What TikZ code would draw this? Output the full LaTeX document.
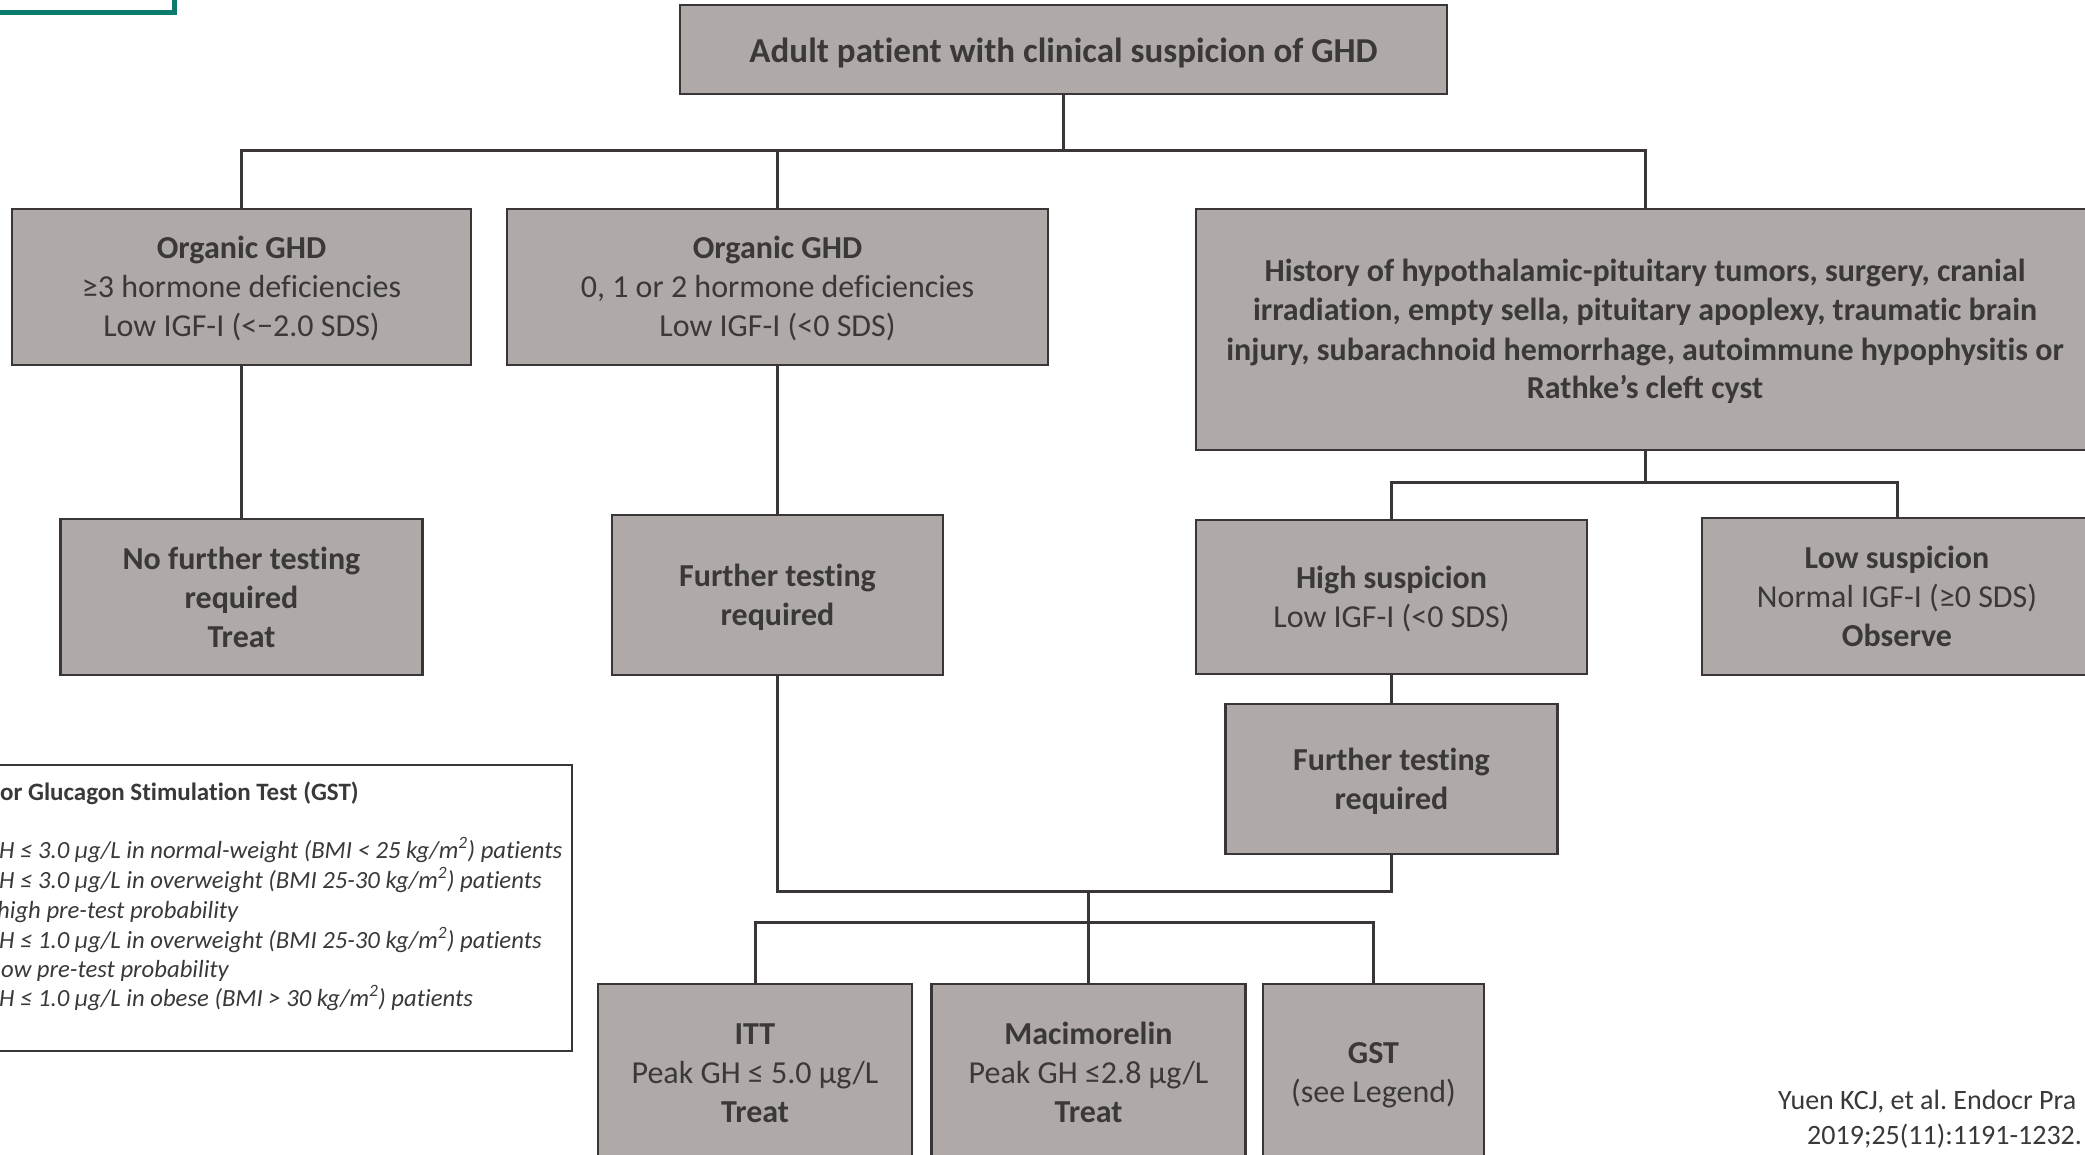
\documentclass[tikz,border=0pt]{standalone}
\usepackage{fontspec}
\setmainfont{Carlito}[Ligatures={NoCommon}]
\frenchspacing
\definecolor{boxfill}{HTML}{AFAAA7}
\definecolor{edgecol}{HTML}{3A3637}
\definecolor{txtcol}{HTML}{3B3838}
\definecolor{tealcol}{HTML}{0B7B6D}
\begin{document}
\begin{tikzpicture}[x=1pt,y=-1pt,
  box/.style={draw=edgecol, line width=2.5pt, fill=boxfill, inner sep=0pt, align=center, text=txtcol, font=\fontsize{32}{39}\selectfont, text depth=8pt},
  one/.style={text height=30pt},
  two/.style={text height=69pt},
  three/.style={text height=108pt},
  four/.style={text height=147pt},
  conn/.style={draw=edgecol, line width=3pt},
  legtxt/.style={anchor=base west, inner sep=0pt, text=txtcol, font=\fontsize{24.7}{30}\selectfont\itshape},
  citetxt/.style={anchor=base west, inner sep=0pt, text=txtcol, font=\fontsize{28}{34}\selectfont}
]
\useasboundingbox (0,0) rectangle (2085,1155);
\clip (0,0) rectangle (2085,1155);
\fill[white] (0,0) rectangle (2085,1155);

% teal frame (cut by the page)
\draw[tealcol, line width=5pt] (-30,-30) rectangle (174.5,12.5);

% nodes
\node[box, text height=30pt, text depth=4pt, minimum width=767pt, minimum height=89pt, font=\fontsize{35}{42}\selectfont] (top) at (1063.5,49.5) {\textbf{Adult patient with clinical suspicion of GHD}};
\node[box, three, minimum width=459pt, minimum height=156pt] (A) at (241.5,287) {\textbf{Organic GHD}\\ ≥3 hormone deficiencies\\ Low IGF-I (<−2.0 SDS)};
\node[box, three, minimum width=541pt, minimum height=156pt] (B) at (777.5,287) {\textbf{Organic GHD}\\ 0, 1 or 2 hormone deficiencies\\ Low IGF-I (<0 SDS)};
\node[box, four, minimum width=898pt, minimum height=241pt] (E) at (1645,329.5) {\textbf{History of hypothalamic-pituitary tumors, surgery, cranial}\\ \textbf{irradiation, empty sella, pituitary apoplexy, traumatic brain}\\ \textbf{injury, subarachnoid hemorrhage, autoimmune hypophysitis or}\\ \textbf{Rathke’s cleft cyst}};
\node[box, three, minimum width=362pt, minimum height=156pt] (C) at (241.5,597) {\textbf{No further testing}\\ \textbf{required}\\ \textbf{Treat}};
\node[box, two, minimum width=331pt, minimum height=160pt] (D) at (777.5,595) {\textbf{Further testing}\\ \textbf{required}};
\node[box, two, minimum width=391pt, minimum height=154pt] (F) at (1391.5,597) {\textbf{High suspicion}\\ Low IGF-I (<0 SDS)};
\node[box, three, minimum width=390pt, minimum height=157pt] (G) at (1897,596.5) {\textbf{Low suspicion}\\ Normal IGF-I (≥0 SDS)\\ \textbf{Observe}};
\node[box, two, minimum width=332pt, minimum height=150pt] (H) at (1391.5,779) {\textbf{Further testing}\\ \textbf{required}};
\node[box, three, minimum width=314pt, minimum height=176pt] (I) at (755,1072) {\textbf{ITT}\\ Peak GH ≤ 5.0 µg/L\\ \textbf{Treat}};
\node[box, three, minimum width=314pt, minimum height=176pt] (J) at (1088.5,1072) {\textbf{Macimorelin}\\ Peak GH ≤2.8 µg/L\\ \textbf{Treat}};
\node[box, two, minimum width=221pt, minimum height=176pt] (K) at (1373.5,1072) {\textbf{GST}\\ (see Legend)};

% connectors
\coordinate (j1) at (1063.5,151);
\coordinate (j2) at (1645,482);
\coordinate (j3) at (1088.5,891);
\coordinate (j4) at (1088.5,922);
\draw[conn] (top.south) -- (j1);
\draw[conn] (A.north) |- (j1) -| (E.north);
\draw[conn] (B.north) -- (B.north |- j1);
\draw[conn] (A.south) -- (C.north);
\draw[conn] (B.south) -- (D.north);
\draw[conn] (E.south) -- (j2);
\draw[conn] (F.north) |- (j2) -| (G.north);
\draw[conn] (F.south) -- (H.north);
\draw[conn] (D.south) |- (j3) -| (H.south);
\draw[conn] (j3) -- (j4);
\draw[conn] (I.north) |- (j4) -| (K.north);
\draw[conn] (J.north) -- (j4);

% legend box (cut by the page)
\draw[edgecol, line width=2.5pt, fill=white] (-30,765) rectangle (572,1051);
\node[legtxt, font=\fontsize{25}{30}\selectfont\bfseries] (L0) at (0,800) {or Glucagon Stimulation Test (GST)};
\node[legtxt] (L1) at (-1,858) {H ≤ 3.0 µg/L in normal-weight (BMI < 25 kg/m\textsuperscript{2}) patients};
\node[legtxt] (L2) at (-1,888) {H ≤ 3.0 µg/L in overweight (BMI 25-30 kg/m\textsuperscript{2}) patients};
\node[legtxt] (L3) at (-3,918) {high pre-test probability};
\node[legtxt] (L4) at (-1,948) {H ≤ 1.0 µg/L in overweight (BMI 25-30 kg/m\textsuperscript{2}) patients};
\node[legtxt] (L5) at (1,977) {ow pre-test probability};
\node[legtxt] (L6) at (-1,1006) {H ≤ 1.0 µg/L in obese (BMI > 30 kg/m\textsuperscript{2}) patients};

% citation
\node[citetxt] (cite1) at (1778,1109) {Yuen KCJ, et al. Endocr Pra};
\node[citetxt] (cite2) at (1807,1144) {2019;25(11):1191-1232.};
\end{tikzpicture}
\end{document}
